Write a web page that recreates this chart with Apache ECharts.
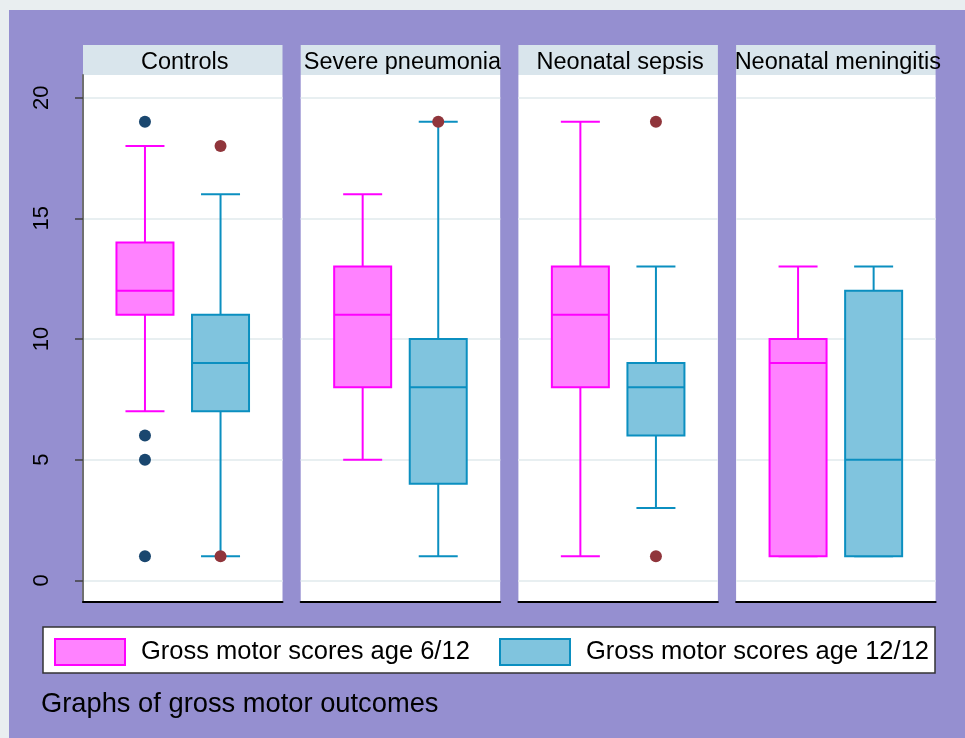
<!DOCTYPE html>
<html>
<head>
<meta charset="utf-8">
<title>Graphs of gross motor outcomes</title>
<script src="https://cdn.jsdelivr.net/npm/echarts@6/dist/echarts.min.js"></script>
<style>
  html, body { margin: 0; padding: 0; background: #e9eef0; }
  #chart { width: 965px; height: 738px; }
</style>
</head>
<body>
<div id="chart"></div>
<script>
// ---- data ----
const panels = ['Controls', 'Severe pneumonia', 'Neonatal sepsis', 'Neonatal meningitis'];
const seriesNames = ['Gross motor scores age 6/12', 'Gross motor scores age 12/12'];
// each box: [lower whisker, Q1, median, Q3, upper whisker]
const age6Boxes  = [[7, 11, 12, 14, 18], [5, 8, 11, 13, 16], [1, 8, 11, 13, 19], [1, 1, 9, 10, 13]];
const age12Boxes = [[1, 7, 9, 11, 16],   [1, 4, 8, 10, 19],  [3, 6, 8, 9, 13],   [1, 1, 5, 12, 13]];
// values outside the whiskers, one list per panel
const age6Outliers  = [[19, 6, 5, 1], [], [], []];
const age12Outliers = [[18, 1], [19], [19, 1], []];
const yTicks = [0, 5, 10, 15, 20];
const noteText = 'Graphs of gross motor outcomes';

// ---- layout & style ----
const FONT = '"Liberation Sans", Arial, Helvetica, sans-serif';
const PANEL_LEFT = 83, PANEL_STEP = 217.7, PANEL_W = 199.5;
const PLOT_TOP = 75, PLOT_BOTTOM = 602, HEADER_TOP = 45, HEADER_H = 30;
const Y_MIN = -0.9, Y_MAX = 20.94;
const X_MIN = 0.18, X_MAX = 2.82;
const BOX_HALF = 28.5, CAP_HALF = 19.5, DOT_R = 6;
const looks = [
  { fill: '#ff82ff', stroke: '#ff00ff', dot: '#1a476f' },
  { fill: '#80c4de', stroke: '#0b8fc0', dot: '#90353b' }
];

function makeBoxRenderer(look) {
  return function (params, api) {
    const x = api.value(0);
    const at = v => api.coord([x, v]);
    const lo = at(api.value(1)), q1 = at(api.value(2)), md = at(api.value(3));
    const q3 = at(api.value(4)), hi = at(api.value(5));
    const cx = md[0];
    const line = (x1, y1, x2, y2) => ({
      type: 'line',
      shape: { x1, y1, x2, y2 },
      style: { stroke: look.stroke, lineWidth: 2 }
    });
    return {
      type: 'group',
      children: [
        line(cx, hi[1], cx, q3[1]),
        line(cx, q1[1], cx, lo[1]),
        line(cx - CAP_HALF, hi[1], cx + CAP_HALF, hi[1]),
        line(cx - CAP_HALF, lo[1], cx + CAP_HALF, lo[1]),
        {
          type: 'rect',
          shape: { x: cx - BOX_HALF, y: q3[1], width: BOX_HALF * 2, height: q1[1] - q3[1] },
          style: { fill: look.fill, stroke: look.stroke, lineWidth: 2 }
        },
        line(cx - BOX_HALF, md[1], cx + BOX_HALF, md[1])
      ]
    };
  };
}

function makeDotRenderer(look) {
  return function (params, api) {
    const p = api.coord([api.value(0), api.value(1)]);
    return {
      type: 'circle',
      shape: { cx: p[0], cy: p[1], r: DOT_R },
      style: { fill: look.dot }
    };
  };
}

const grids = [], xAxes = [], yAxes = [], series = [], graphics = [];

// light margin strips along the top and left edge
graphics.push({ type: 'rect', shape: { x: 0, y: 0, width: 965, height: 10 }, style: { fill: '#e9eef0' } });
graphics.push({ type: 'rect', shape: { x: 0, y: 0, width: 9, height: 738 }, style: { fill: '#e9eef0' } });

panels.forEach((name, i) => {
  const left = PANEL_LEFT + i * PANEL_STEP;
  grids.push({
    left: left, top: PLOT_TOP, width: PANEL_W, height: PLOT_BOTTOM - PLOT_TOP,
    show: true, backgroundColor: '#ffffff', borderWidth: 0
  });
  xAxes.push({
    gridIndex: i, type: 'value', min: X_MIN, max: X_MAX,
    axisLine: { show: true, onZero: false, lineStyle: { color: '#000', width: 2 } },
    axisTick: { show: false }, axisLabel: { show: false }, splitLine: { show: false }
  });
  yAxes.push({
    gridIndex: i, type: 'value', min: Y_MIN, max: Y_MAX,
    axisLine: { show: i === 0, lineStyle: { color: '#707070', width: 2 } },
    axisTick: { show: i === 0, length: 8, customValues: yTicks, lineStyle: { color: '#404040', width: 1.5 } },
    axisLabel: {
      show: i === 0, customValues: yTicks, rotate: 90, margin: 30,
      fontSize: 22, fontFamily: FONT, color: '#000'
    },
    splitLine: { show: true, customValues: yTicks, lineStyle: { color: '#e8eff1', width: 2 } }
  });

  // panel header strip
  graphics.push({
    type: 'rect',
    shape: { x: left, y: HEADER_TOP, width: PANEL_W, height: HEADER_H },
    style: { fill: '#d9e5ec' }
  });
  graphics.push({
    type: 'text',
    x: left + PANEL_W / 2 + 2, y: HEADER_TOP + HEADER_H / 2 + 2.5,
    style: {
      text: name, fill: '#000', font: '23.5px ' + FONT,
      textAlign: 'center', textVerticalAlign: 'middle'
    }
  });

  [age6Boxes, age12Boxes].forEach((boxes, k) => {
    series.push({
      type: 'custom', name: seriesNames[k],
      xAxisIndex: i, yAxisIndex: i,
      renderItem: makeBoxRenderer(looks[k]),
      itemStyle: { color: looks[k].fill, borderColor: looks[k].stroke, borderWidth: 2 },
      encode: { x: 0, y: [1, 2, 3, 4, 5] },
      data: [[k + 1].concat(boxes[i])],
      z: 2, silent: true
    });
  });
  [age6Outliers, age12Outliers].forEach((outliers, k) => {
    series.push({
      type: 'custom', name: 'outliers-' + i + '-' + k,
      xAxisIndex: i, yAxisIndex: i,
      renderItem: makeDotRenderer(looks[k]),
      encode: { x: 0, y: 1 },
      data: outliers[i].map(v => [k + 1, v]),
      z: 3, silent: true
    });
  });
});

// legend frame and caption
graphics.push({
  type: 'rect',
  shape: { x: 43, y: 627, width: 892, height: 46 },
  style: { fill: '#ffffff', stroke: '#333333', lineWidth: 1.5 }
});
graphics.push({
  type: 'text', x: 41, y: 704,
  style: { text: noteText, fill: '#000', font: '27.3px ' + FONT, textVerticalAlign: 'middle' }
});

function legendFor(k, left) {
  return {
    data: [{
      name: seriesNames[k], icon: 'rect',
      itemStyle: { color: looks[k].fill, borderColor: looks[k].stroke, borderWidth: 2 }
    }],
    left: left, top: 638, padding: 0,
    itemWidth: 70, itemHeight: 26,
    selectedMode: false,
    textStyle: { fontSize: 25.5, fontFamily: FONT, color: '#000', padding: [0, 0, 0, 11] }
  };
}

const chart = echarts.init(document.getElementById('chart'), null, { renderer: 'canvas' });
chart.setOption({
  backgroundColor: '#958fd0',
  animation: false,
  grid: grids,
  xAxis: xAxes,
  yAxis: yAxes,
  legend: [legendFor(0, 54), legendFor(1, 499)],
  graphic: graphics,
  series: series
});
</script>
</body>
</html>
